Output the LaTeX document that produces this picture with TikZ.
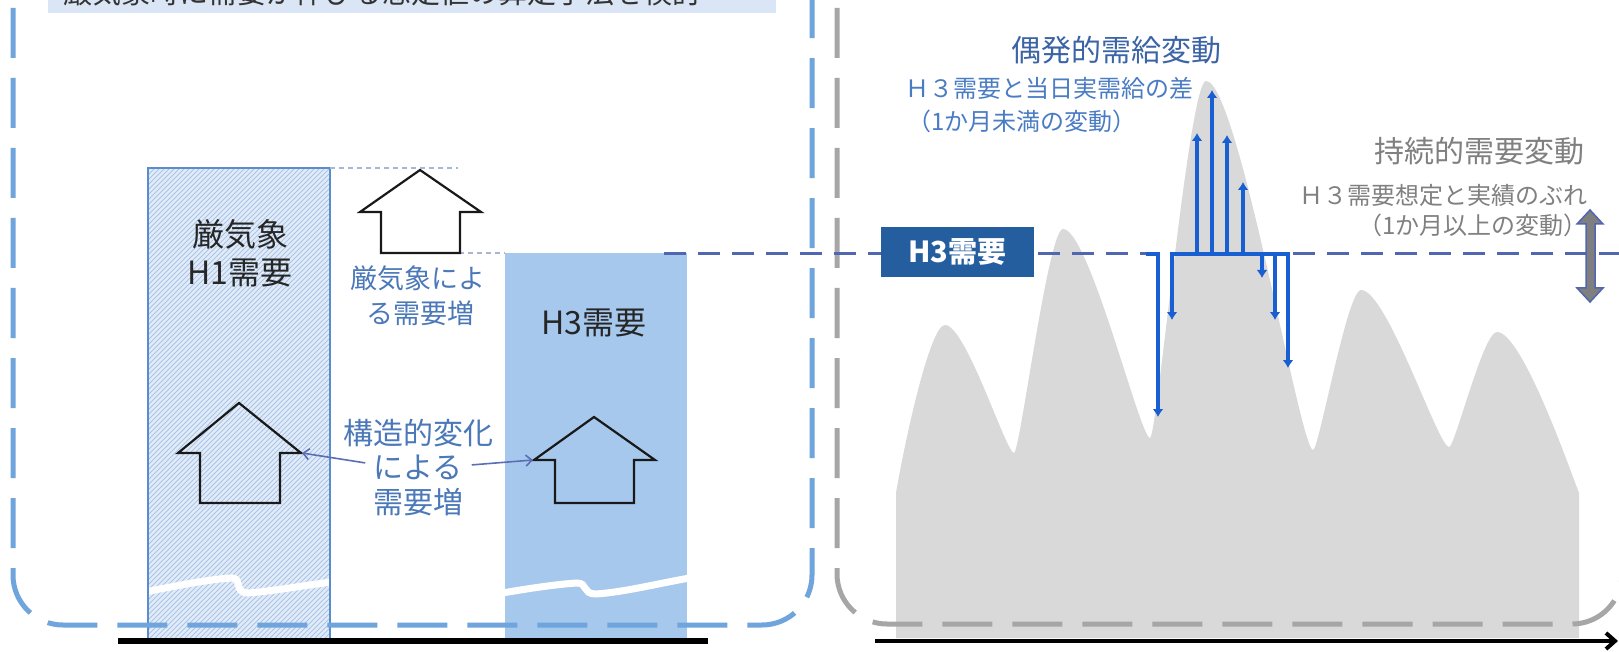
\documentclass[tikz,border=0pt]{standalone}
\usepackage{fontspec}
\setmainfont{Noto Sans CJK JP}
\usetikzlibrary{arrows.meta}
\definecolor{boxblue}{HTML}{70A4DC}
\definecolor{boxgrey}{HTML}{A6A6A6}
\definecolor{bandfill}{HTML}{DAE6F5}
\definecolor{hatchbase}{HTML}{E2ECF8}
\definecolor{hatchcol}{HTML}{A9C4E6}
\definecolor{barblue}{HTML}{A6C8EC}
\definecolor{barborder}{HTML}{5B8CCB}
\definecolor{labelblue}{HTML}{4A78B8}
\definecolor{conncol}{HTML}{5B6EB5}
\definecolor{h3line}{HTML}{5166B0}
\definecolor{h3box}{HTML}{255E9F}
\definecolor{darkblue}{HTML}{3B64A6}
\definecolor{midblue}{HTML}{4A7CC4}
\definecolor{arrowblue}{HTML}{1A5FD1}
\definecolor{curvegrey}{HTML}{D9D9D9}
\definecolor{textgrey}{HTML}{808080}
\definecolor{arrowgrey}{HTML}{7F7F7F}
\definecolor{thindash}{HTML}{A8B6D6}
\begin{document}
\begin{tikzpicture}[x=1pt,y=-1pt,
  panelblue/.style={draw=boxblue,line width=5pt,dash pattern=on 50pt off 20pt,rounded corners=50pt},
  panelgrey/.style={draw=boxgrey,line width=5pt,dash pattern=on 50pt off 20pt,rounded corners=50pt},
  house/.style={draw=black!90,line width=2.2pt,line join=miter},
  thinline/.style={draw=thindash,line width=1.5pt,dash pattern=on 5pt off 4pt},
  breakline/.style={draw=white,line width=7pt},
  conn/.style={draw=conncol,line width=1.6pt,-{Straight Barb[length=6pt,width=11pt]}},
  barrow/.style={draw=arrowblue,line width=3.5pt,-{Latex[length=8pt,width=11pt]}},
  bline/.style={draw=arrowblue,line width=3.5pt},
  h3dash/.style={draw=h3line,line width=3pt,dash pattern=on 22pt off 12pt},
  fbig/.style={font=\fontsize{32}{38}\selectfont},
  fmid/.style={font=\fontsize{30}{36}\selectfont},
  flab/.style={font=\fontsize{27}{32}\selectfont},
  fsmall/.style={font=\fontsize{24}{29}\selectfont},
  txt/.style={inner sep=0pt}
]
\useasboundingbox (0,0) rectangle (1619,652);
\clip (0,0) rectangle (1619,652);
\fill[white] (0,0) rectangle (1619,652);

% ---------- top band (cut off) ----------
\fill[bandfill] (48,-5) rectangle (776,13);
\begin{scope}
  \clip (48,-5) rectangle (776,13);
  \node[txt,anchor=base west,font=\fontsize{29}{34}\selectfont,text=black!80] (title) at (63,4) {厳気象時に需要が伸びる想定値の算定手法を検討};
\end{scope}

% ---------- left panel: bars ----------
\begin{scope}
  \clip (148,168) rectangle (330,638);
  \fill[hatchbase] (148,168) rectangle (330,638);
  \foreach \i in {-330,-325,...,335} \draw[hatchcol,line width=1pt] (\i,638) -- ++(470,-470);
  \draw[breakline] (140,593) .. controls (175,586) and (210,579) .. (232,578) .. controls (242,578) and (234,593) .. (248,593) .. controls (275,591) and (305,585) .. (340,581);
\end{scope}
\draw[barborder,line width=1.2pt] (148,638) -- (148,168) -- (330,168) -- (330,638);

\begin{scope}
  \clip (505,253) rectangle (687,638);
  \fill[barblue] (505,253) rectangle (687,638);
  \draw[breakline] (497,594) .. controls (530,588) and (560,584) .. (577,583) .. controls (588,583) and (582,594) .. (596,594) .. controls (625,592) and (655,584) .. (695,577);
\end{scope}

\draw[thinline] (330,168) -- (458,168);
\draw[thinline] (387,253) -- (505,253);

% house arrows
\draw[house] (381,253) -- (381,212) -- (360,212) -- (420,170) -- (481,212) -- (460,212) -- (460,253) -- cycle;
\draw[house] (200,503) -- (200,453) -- (178,453) -- (239,403) -- (301,453) -- (280,453) -- (280,503) -- cycle;
\draw[house] (555,503) -- (555,460) -- (534,460) -- (594,417) -- (655,460) -- (634,460) -- (634,503) -- cycle;
\coordinate (wingL) at (302,453);
\coordinate (wingR) at (533,460);

% texts
\node[txt,anchor=base,fbig,text=black!85] (h1a) at (240,247) {厳気象};
\node[txt,anchor=base,fbig,text=black!85] (h1b) at (240,284) {H1需要};
\node[txt,anchor=base,flab,text=labelblue] (wa) at (418,289) {厳気象によ};
\node[txt,anchor=base,flab,text=labelblue] (wb) at (420,323) {る需要増};
\node[txt,anchor=base,fbig,text=black!85] (h3t) at (594,334) {H3需要};
\node[txt,anchor=base,fmid,text=labelblue] (s1) at (418,444) {構造的変化};
\node[txt,anchor=base,fmid,text=labelblue] (s2) at (418,478) {による};
\node[txt,anchor=base,fmid,text=labelblue] (s3) at (418,513) {需要増};
\draw[conn] ([xshift=-8pt,yshift=4pt]s2.west) -- (wingL);
\draw[conn] ([xshift=9pt,yshift=2pt]s2.east) -- (wingR);

% left panel frame and axis
\draw[panelblue] (13,-202) -- (13,625) -- (812,625) -- (812,-202);
\coordinate (axL1) at (118,641);
\coordinate (axL2) at (708,641);
\draw[line width=6pt] (axL1) -- (axL2);

% ---------- right panel ----------
\fill[curvegrey] (896,638) -- (896,493)
 .. controls (905,440) and (930,325) .. (945,325)
 .. controls (966,325) and (1006,453) .. (1014,453)
 .. controls (1020,453) and (1048,229) .. (1063,229)
 .. controls (1089,229) and (1140,438) .. (1150,438)
 .. controls (1157,438) and (1189,81) .. (1206,81)
 .. controls (1238,81) and (1300,450) .. (1313,450)
 .. controls (1319,450) and (1347,290) .. (1361,290)
 .. controls (1387,290) and (1438,447) .. (1449,447)
 .. controls (1455,447) and (1483,332) .. (1497,332)
 .. controls (1522,332) and (1570,470) .. (1579,493)
 -- (1579,638) -- cycle;

\draw[panelgrey] (837,-202) -- (837,624) -- (1622,624) -- (1622,-202);

% H3 line
\coordinate (h3s) at (664,254);
\coordinate (h3m1) at (1150,254);
\coordinate (h3m2) at (1293,254);
\coordinate (h3e) at (1619,254);
\draw[h3dash] (h3s) -- (h3m1);
\draw[h3dash] (h3m2) -- (h3e);

% blue variation arrows
\draw[bline] (1146,254) -- (1159.75,254);
\draw[bline] (1170.25,254) -- (1290,254);
\foreach \x/\y [count=\k] in {1158/417,1172/320,1197/133,1212/90,1227/135,1243/182,1262/278,1275/320,1288/368}{
  \coordinate (bs\k) at (\x,254);
  \coordinate (be\k) at (\x,\y);
  \draw[barrow] (bs\k) -- (be\k);
}

\node[fill=h3box,text=white,font=\bfseries\fontsize{29}{34}\selectfont,minimum width=153pt,minimum height=50pt,inner sep=0pt] (h3box) at (957.5,252) {H3需要};

\node[txt,anchor=base,fmid,text=darkblue] (gu) at (1116,62) {偶発的需給変動};
\node[txt,anchor=base west,fsmall,text=midblue] (gu1) at (905,98) {Ｈ３需要と当日実需給の差};
\node[txt,anchor=base west,fsmall,text=midblue] (gu2) at (907,131) {（1か月未満の変動）};

\node[txt,anchor=base east,fmid,text=textgrey] (ji) at (1585,163) {持続的需要変動};
\node[txt,anchor=base east,fsmall,text=textgrey] (ji1) at (1588,205) {Ｈ３需要想定と実績のぶれ};
\node[txt,anchor=base east,fsmall,text=textgrey] (ji2) at (1588,235) {（1か月以上の変動）};

% grey double arrow
\draw[fill=arrowgrey,draw=h3line,line width=1.5pt,line join=miter]
  (1590,210) -- (1603,224) -- (1595,224) -- (1595,288) -- (1603,288) -- (1590,302)
  -- (1577,288) -- (1586,288) -- (1586,224) -- (1577,224) -- cycle;

% right axis
\coordinate (axR1) at (875,641);
\coordinate (axR2) at (1618,641);
\draw[line width=4pt,-{Straight Barb[length=9pt,width=16pt]}] (axR1) -- (axR2);
\end{tikzpicture}
\end{document}
